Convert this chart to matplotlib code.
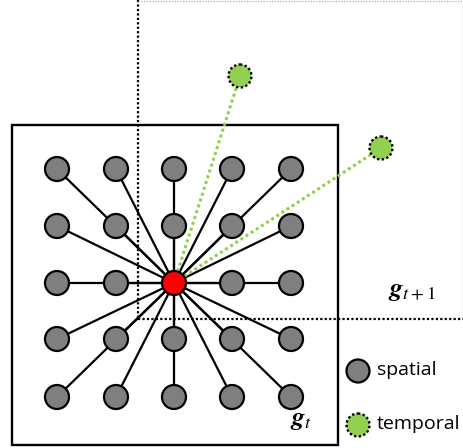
import matplotlib.pyplot as plt
from matplotlib.patches import Circle, Rectangle

# grid of spatial nodes (pixel coords, y down)
grid_cols = [57, 116, 174, 232, 291]
grid_rows = [169, 226, 283, 339, 397]
center = (174, 283)
# temporal neighbours in the next frame
temporal_x = [240, 381]
temporal_y = [76, 148]
legend_labels = ["spatial", "temporal"]

W, H = 464, 448
fig = plt.figure(figsize=(W / 100, H / 100), dpi=100)
ax = fig.add_axes([0, 0, 1, 1])
ax.set_xlim(0, W)
ax.set_ylim(H, 0)
ax.axis("off")
plt.rcParams["mathtext.fontset"] = "stix"

gray = "#7f7f7f"
green = "#92d050"
r = 12

# g_{t+1} frame (dotted)
ax.plot([138, 138], [0, 319], color="black", lw=1.6, ls=(0, (1, 1)), zorder=1)
ax.plot([138, W], [319, 319], color="black", lw=1.6, ls=(0, (1, 1)), zorder=1)
ax.plot([138, W - 1], [0.8, 0.8], color="#bbbbbb", lw=1, ls=(0, (1, 1)), zorder=1)
ax.plot([W - 1.2, W - 1.2], [0, 319], color="#bbbbbb", lw=1, ls=(0, (1, 1)), zorder=1)

# g_t frame
ax.add_patch(Rectangle((12, 125), 326, 320, fill=False, ec="black", lw=1.7, zorder=2))

# spatial edges
for gx in grid_cols:
    for gy in grid_rows:
        if (gx, gy) != center:
            ax.plot([center[0], gx], [center[1], gy], color="black", lw=1.6, zorder=3)

# temporal edges
for tx, ty in zip(temporal_x, temporal_y):
    ax.plot([center[0], tx], [center[1], ty], color=green, lw=2.2, ls=(0, (1, 1)), zorder=3)

# nodes
for gx in grid_cols:
    for gy in grid_rows:
        if (gx, gy) != center:
            ax.add_patch(Circle((gx, gy), r, fc=gray, ec="black", lw=1.6, zorder=4))
ax.add_patch(Circle(center, r, fc="red", ec="black", lw=1.6, zorder=5))
for tx, ty in zip(temporal_x, temporal_y):
    ax.add_patch(Circle((tx, ty), 11.5, fc=green, ec="black", lw=1.7, ls=(0, (1, 1)), zorder=4))

# labels
ax.text(412, 290, r"$\boldsymbol{g}_{t+1}$", fontsize=19, ha="center", va="center")
ax.text(301, 419, r"$\boldsymbol{g}_{t}$", fontsize=19, ha="center", va="center")

# legend
ax.add_patch(Circle((358, 371), 11.5, fc=gray, ec="black", lw=1.6, zorder=4))
ax.add_patch(Circle((358, 425), 11.5, fc=green, ec="black", lw=1.7, ls=(0, (1, 1)), zorder=4))
ax.text(377, 370, legend_labels[0], fontsize=14, family="Open Sans", va="center")
ax.text(377, 424, legend_labels[1], fontsize=14, family="Open Sans", va="center")

fig.savefig("out.png", dpi=100)
